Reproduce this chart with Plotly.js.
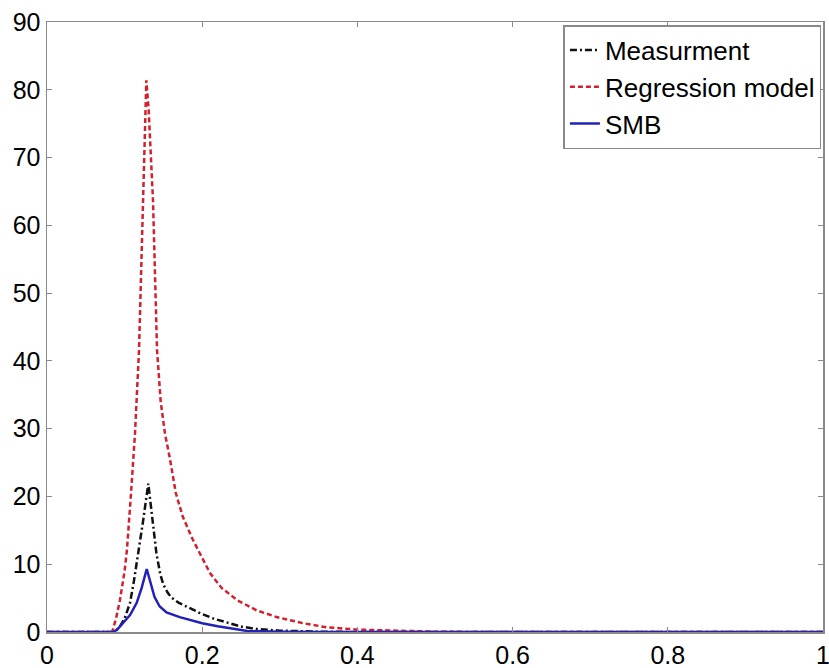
<!DOCTYPE html>
<html>
<head>
<meta charset="utf-8">
<script src="https://cdn.plot.ly/plotly-3.0.1.min.js"></script>
<style>html,body{margin:0;padding:0;background:#fff;}#chart{width:829px;height:668px;}</style>
</head>
<body>
<div id="chart"></div>
<script>
// Measurement (black dash-dot)
const measX = [0, 0.086, 0.0898, 0.095, 0.1, 0.107, 0.112, 0.1177, 0.124, 0.1305, 0.136, 0.141, 0.146, 0.15, 0.155, 0.16, 0.17, 0.18, 0.197, 0.214, 0.236, 0.25, 0.27, 0.3, 0.35, 0.4, 1];
const measY = [0, 0, 0.3, 1.0, 2.0, 4.3, 7.5, 11.6, 16.5, 21.9, 16.5, 11.6, 8.5, 7.0, 5.9, 5.1, 4.3, 3.7, 2.8, 2.0, 1.3, 0.8, 0.45, 0.2, 0.05, 0, 0];

// Regression model (red dashed)
const regX = [0, 0.084, 0.089, 0.094, 0.1, 0.103, 0.108, 0.1134, 0.1186, 0.1237, 0.126, 0.128, 0.131, 0.1345, 0.1366, 0.1418, 0.1465, 0.152, 0.1585, 0.166, 0.175, 0.188, 0.2, 0.21, 0.225, 0.245, 0.27, 0.296, 0.33, 0.36, 0.4, 0.45, 0.5, 0.55, 1];
const regY = [0, 0, 2.0, 4.7, 9.0, 12.1, 20.0, 29.3, 41.6, 63.7, 75, 81.4, 77, 68, 63.7, 41.6, 34.0, 29.3, 25.5, 20.5, 17.0, 13.6, 11.0, 8.7, 6.5, 4.7, 3.2, 2.2, 1.3, 0.7, 0.35, 0.15, 0.05, 0, 0];

// SMB (blue solid)
const smbX = [0, 0.085, 0.09, 0.0983, 0.107, 0.1156, 0.122, 0.1285, 0.133, 0.1385, 0.145, 0.154, 0.171, 0.184, 0.2, 0.22, 0.24, 0.258, 0.3, 0.35, 1];
const smbY = [0, 0, 0.3, 1.3, 2.5, 4.3, 6.5, 9.3, 7.5, 5.2, 3.8, 2.9, 2.2, 1.8, 1.3, 0.85, 0.45, 0.15, 0.05, 0, 0];

const xTickVals = [0, 0.2, 0.4, 0.6, 0.8, 1];
const xTickText = ['0', '0.2', '0.4', '0.6', '0.8', '1'];
const yTickVals = [0, 10, 20, 30, 40, 50, 60, 70, 80, 90];

const traces = [
  {x: measX, y: measY, name: 'Measurment', mode: 'lines', legendgroup: 'a',
   line: {color: '#111111', width: 2.5, dash: '7px,3px,2px,3px'}},
  {x: regX, y: regY, name: 'Regression model', mode: 'lines', legendgroup: 'b',
   line: {color: '#d4202c', width: 2.5, dash: '5px,3px'}},
  {x: smbX, y: smbY, name: 'SMB', mode: 'lines', legendgroup: 'c',
   line: {color: '#2222b8', width: 2.5}}
];

const axisCommon = {
  showgrid: false, zeroline: false, showline: true, mirror: 'ticks',
  linecolor: '#8a8a8a', linewidth: 1.5, ticks: 'inside', ticklen: 5,
  tickcolor: '#8a8a8a', tickwidth: 1, ticklabeloverflow: 'allow',
  tickfont: {family: 'Liberation Sans, Arial, sans-serif', size: 25, color: '#000'}
};

const layout = {
  width: 829, height: 668,
  margin: {l: 47, r: 6, t: 22, b: 36},
  paper_bgcolor: '#fff', plot_bgcolor: '#fff',
  showlegend: true,
  xaxis: Object.assign({}, axisCommon, {range: [0, 1], tickvals: xTickVals, ticktext: xTickText}),
  yaxis: Object.assign({}, axisCommon, {range: [0, 90], tickvals: yTickVals}),
  legend: {
    x: 0.998, y: 0.995, xanchor: 'right', yanchor: 'top',
    bgcolor: '#fff', bordercolor: '#8a8a8a', borderwidth: 1.5,
    font: {family: 'Liberation Sans, Arial, sans-serif', size: 26, color: '#000'},
    traceorder: 'grouped', tracegroupgap: 0
  }
};

Plotly.newPlot('chart', traces, layout, {displayModeBar: false, staticPlot: true});
</script>
</body>
</html>
